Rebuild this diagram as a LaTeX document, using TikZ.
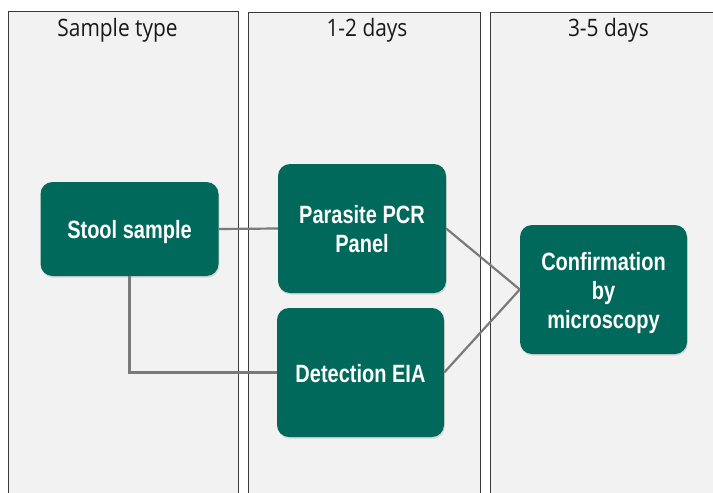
\documentclass[tikz,border=0pt]{standalone}
\usepackage{fontspec}
\usetikzlibrary{shadows}
\newfontfamily\hdrfont{Open Sans}[FakeStretch=0.87]
\newfontfamily\boxfont{Liberation Sans}[FakeStretch=0.8]
\definecolor{colfill}{HTML}{F2F2F2}
\definecolor{colline}{HTML}{3A3A3A}
\definecolor{boxgreen}{HTML}{00695B}
\definecolor{conngray}{HTML}{7A7A7A}
\newcommand{\boxtxt}[1]{\raisebox{-10pt}[0pt][0pt]{\begin{tabular}{@{}c@{}}#1\end{tabular}}}
\begin{document}
\begin{tikzpicture}[x=1pt,y=-1pt,
  column/.style={fill=colfill,draw=colline,line width=0.9pt},
  hdr/.style={anchor=base,font=\hdrfont\fontsize{24}{28}\selectfont,text=black!90},
  stepbox/.style={fill=boxgreen,draw=none,rounded corners=12pt,text=white,
    align=center,inner sep=0pt,font=\boxfont\bfseries\fontsize{25}{29}\selectfont,
    drop shadow={opacity=0.25,shadow xshift=0.8pt,shadow yshift=-1.6pt}},
  conn/.style={draw=conngray,line width=2.2pt}]
\useasboundingbox (0,0) rectangle (713,493);
\fill[white] (0,0) rectangle (713,493);
\begin{scope}
\clip (0,0) rectangle (713,493);
\draw[column] (8,11) rectangle (238,510);
\draw[column] (248,12) rectangle (480,510);
\draw[column] (490,12) rectangle (725,510);
\end{scope}
\node[hdr] (h1) at (117.5,36) {Sample type};
\node[hdr] (h2) at (367,36) {1-2 days};
\node[hdr] (h3) at (608.5,36) {3-5 days};
\node[stepbox,minimum width=178pt,minimum height=94pt] (stool) at (129.5,229) {\boxtxt{Stool sample}};
\node[stepbox,minimum width=168pt,minimum height=129pt] (pcr) at (362,228.5) {\boxtxt{Parasite PCR\\Panel}};
\node[stepbox,minimum width=167pt,minimum height=129pt] (eia) at (360.5,372.5) {\boxtxt{Detection EIA}};
\node[stepbox,minimum width=167pt,minimum height=129pt] (conf) at (603.5,289.5) {\boxtxt{Confirmation\\by\\microscopy}};
\draw[conn] (stool.east) -- (pcr.west);
\draw[conn] (stool.south) |- (eia.west);
\draw[conn] (pcr.east) -- (conf.west);
\draw[conn] (eia.east) -- (conf.west);
\end{tikzpicture}
\end{document}
